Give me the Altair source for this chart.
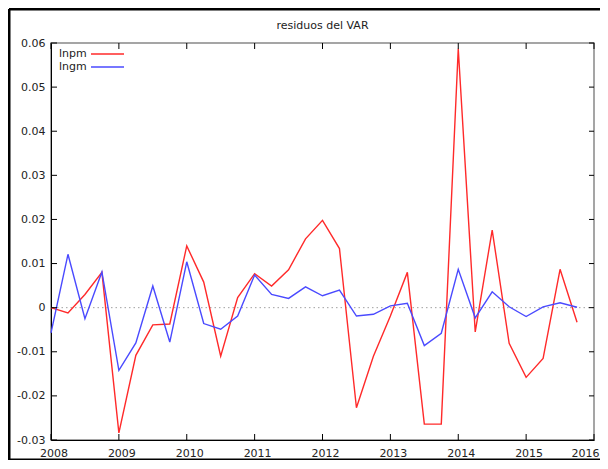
import altair as alt
import pandas as pd

# ---- data ----
quarters = [2008.0, 2008.25, 2008.5, 2008.75, 2009.0, 2009.25, 2009.5, 2009.75,
            2010.0, 2010.25, 2010.5, 2010.75, 2011.0, 2011.25, 2011.5, 2011.75,
            2012.0, 2012.25, 2012.5, 2012.75, 2013.0, 2013.25, 2013.5, 2013.75,
            2014.0, 2014.25, 2014.5, 2014.75, 2015.0, 2015.25, 2015.5, 2015.75]
lnpm = [0.0, -0.0012, 0.0030, 0.0080, -0.0284, -0.0108, -0.0039, -0.0037,
        0.0140, 0.0058, -0.0110, 0.0023, 0.0077, 0.0049, 0.0086, 0.0156,
        0.0198, 0.0134, -0.0227, -0.0110, -0.0019, 0.0080, -0.0264, -0.0264,
        0.0587, -0.0055, 0.0176, -0.0081, -0.0158, -0.0115, 0.0087, -0.0033]
lngm = [-0.0057, 0.0121, -0.0025, 0.0081, -0.0142, -0.0080, 0.0049, -0.0078,
        0.0104, -0.0036, -0.0049, -0.0019, 0.0074, 0.0030, 0.0021, 0.0047,
        0.0027, 0.0040, -0.0019, -0.0015, 0.0004, 0.0010, -0.0086, -0.0058,
        0.0087, -0.0023, 0.0036, 0.0002, -0.0020, 0.0002, 0.0011, 0.0001]
series_names = ["lnpm", "lngm"]
series_colors = ["#ff2a2a", "#4a4aff"]
y_ticks = [-0.03, -0.02, -0.01, 0, 0.01, 0.02, 0.03, 0.04, 0.05, 0.06]
x_ticks = [2008, 2009, 2010, 2011, 2012, 2013, 2014, 2015, 2016]
title_text = "residuos del VAR"

W, H = 543, 397
FONT = "DejaVu Sans"
TXT = "#222222"

df = pd.DataFrame({
    "t": quarters + quarters,
    "v": lnpm + lngm,
    "s": [series_names[0]] * len(lnpm) + [series_names[1]] * len(lngm),
})
one = pd.DataFrame({"a": [0]})
yt = pd.DataFrame({"v": y_ticks})
xt = pd.DataFrame({"t": x_ticks})

xs = alt.Scale(domain=[2008, 2016], nice=False, zero=False)
ys = alt.Scale(domain=[-0.03, 0.06], nice=False, zero=False)

x_axis = alt.Axis(values=x_ticks, format="d", ticks=False, grid=False,
                  domainColor="#000000", domainWidth=1, labelFlush=False,
                  labelOffset=alt.condition(f"datum.value == {x_ticks[-1]}",
                                            alt.value(-9), alt.value(2.5)),
                  labelPadding=7, labelFontSize=11, labelFont=FONT,
                  labelColor=TXT, title=None)
y_axis = alt.Axis(values=y_ticks, labelExpr="'' + datum.value", ticks=False,
                  grid=False, domainColor="#000000", domainWidth=1,
                  labelFlush=False,
                  labelPadding=6, labelFontSize=11, labelFont=FONT,
                  labelColor=TXT, title=None)

X = lambda f: alt.X(f, scale=xs, axis=x_axis)
Y = lambda f: alt.Y(f, scale=ys, axis=y_axis)

zero_line = alt.Chart(pd.DataFrame({"v": [0]})).mark_rule(
    color="#a0a0a0", strokeDash=[1.5, 3], strokeWidth=1
).encode(y=Y("v:Q"))

layers = [zero_line]
for name, col in zip(series_names, series_colors):
    layers.append(
        alt.Chart(df).transform_filter(alt.datum.s == name).mark_line(
            color=col, strokeWidth=1.4
        ).encode(x=X("t:Q"), y=Y("v:Q"))
    )

# inward ticks on all four sides
layers.append(alt.Chart(yt).mark_rule(color="#000", strokeWidth=1).encode(
    y=Y("v:Q"), x=alt.value(0), x2=alt.value(6)))
layers.append(alt.Chart(yt).mark_rule(color="#000", strokeWidth=1).encode(
    y=Y("v:Q"), x=alt.value(W - 5), x2=alt.value(W)))
layers.append(alt.Chart(xt).mark_rule(color="#000", strokeWidth=1).encode(
    x=X("t:Q"), y=alt.value(H - 6), y2=alt.value(H)))
layers.append(alt.Chart(xt).mark_rule(color="#000", strokeWidth=1).encode(
    x=X("t:Q"), y=alt.value(0), y2=alt.value(6)))

# legend (label left, line sample right, like gnuplot)
for i, (name, col) in enumerate(zip(series_names, series_colors)):
    yy = 11 + 13 * i
    layers.append(alt.Chart(one).mark_text(
        align="left", baseline="middle", font=FONT, fontSize=11, color=TXT
    ).encode(x=alt.value(8), y=alt.value(yy), text=alt.value(name)))
    layers.append(alt.Chart(one).mark_rule(color=col, strokeWidth=1.6).encode(
        x=alt.value(40), x2=alt.value(73), y=alt.value(yy)))

# title drawn as text above the plot
layers.append(alt.Chart(one).mark_text(
    align="center", baseline="middle", font=FONT, fontSize=11, color=TXT
).encode(x=alt.value(W / 2), y=alt.value(-17), text=alt.value(title_text)))

# outer window frame
layers.append(alt.Chart(one).mark_rule(color="#000", strokeWidth=3).encode(
    x=alt.value(-42), y=alt.value(-34), y2=alt.value(H + 20)))
layers.append(alt.Chart(one).mark_rule(color="#000", strokeWidth=3).encode(
    x=alt.value(-42), x2=alt.value(W + 30), y=alt.value(-34)))
layers.append(alt.Chart(one).mark_rule(color="#000", strokeWidth=3).encode(
    x=alt.value(-42), x2=alt.value(W + 30), y=alt.value(H + 20)))

chart = alt.layer(*layers).properties(
    width=W,
    height=H,
    autosize=alt.AutoSizeParams(type="none"),
    padding={"left": 43, "top": 35, "right": 6, "bottom": 20},
).configure_view(stroke="#888888", strokeWidth=1.5)

chart.save("out.html", embed_options={"renderer": "svg", "actions": False})
